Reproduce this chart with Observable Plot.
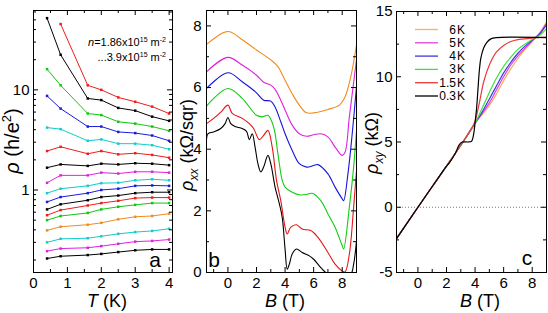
<!DOCTYPE html>
<html><head><meta charset="utf-8">
<script src="https://cdn.jsdelivr.net/npm/d3@7"></script>
<script src="https://cdn.jsdelivr.net/npm/@observablehq/plot@0.6"></script>
<style>
body{margin:0;background:#fff}
#wrap{position:relative;width:548px;height:313px;overflow:hidden;background:#fff}
#wrap svg{position:absolute;left:0;top:0}
</style>
</head><body><div id="wrap"></div>
<script>
// ---------- Panel a: rho(T) on log scale ----------
const T = [0.4, 0.8, 1.6, 2, 2.5, 3, 3.5, 4];
const aColors = ["#ee1c1c","#000000","#11c611","#1b1bdd","#11cccc","#ee1c1c","#000000","#dd22dd","#11cccc","#1b1bdd","#000000","#ee1c1c","#11c611","#f08c1a","#11cccc","#dd22dd","#000000"];
const a01 = [null, 45.4, 11.1, 10.0, 8.4, 7.6, 6.8, 5.8];
const a02 = [52, 22.4, 8.2, 7.9, 6.6, 6.2, 5.4, 4.9];
const a03 = [16.1, 11.1, 5.8, 5.6, 4.8, 4.6, 4.3, 3.9];
const a04 = [8.7, 6.5, 4.3, 4.3, 3.8, 3.7, 3.5, 3.1];
const a05 = [4.2, 4.05, 3.1, 3.2, 2.9, 2.9, 2.8, 2.55];
const a06 = [2.45, 2.7, 2.3, 2.45, 2.27, 2.33, 2.24, 2.1];
const a07 = [1.67, 1.8, 1.74, 1.83, 1.8, 1.85, 1.83, 1.77];
const a08 = [1.18, 1.4, 1.4, 1.49, 1.46, 1.52, 1.52, 1.49];
const a09 = [0.93, 1.03, 1.1, 1.17, 1.18, 1.25, 1.28, 1.25];
const a10 = [0.76, 0.85, 0.93, 1.0, 1.03, 1.1, 1.11, 1.1];
const a11 = [0.64, 0.72, 0.79, 0.85, 0.88, 0.93, 0.95, 0.95];
const a12 = [0.56, 0.63, 0.70, 0.74, 0.78, 0.83, 0.84, 0.84];
const a13 = [0.50, 0.55, 0.59, 0.64, 0.68, 0.71, 0.74, 0.74];
const a14 = [0.395, 0.43, 0.45, 0.47, 0.51, 0.54, 0.55, 0.58];
const a15 = [0.30, 0.325, 0.33, 0.345, 0.365, 0.38, 0.39, 0.41];
const a16 = [0.245, 0.26, 0.265, 0.275, 0.29, 0.305, 0.31, 0.32];
const a17 = [0.207, 0.218, 0.224, 0.23, 0.24, 0.25, 0.255, 0.255];
const aSeries = [a01,a02,a03,a04,a05,a06,a07,a08,a09,a10,a11,a12,a13,a14,a15,a16,a17];
const aXTicks = [0,1,2,3,4];
const aYTicks = [1,10];

// ---------- Panel b: rho_xx(B) ----------
const bB_03 = [-1.5,-1.4,-1.0,-0.5,-0.2,0,0.2,0.5,1.0,1.3,1.5,1.7,1.9,2.1,2.3,2.5,2.8,3.0,3.3,3.6,3.8,4.0,4.15,4.3,4.5,4.8,5.2,5.7,6.0,6.5,7.0,7.5,8.0,8.6,8.8,9.0];
const bV_03 = [4.3,4.5,4.56,4.67,4.83,5.03,4.83,4.74,4.67,4.58,4.31,4.5,4.07,3.53,3.26,3.42,3.8,3.53,2.77,2.23,1.79,0.76,0.11,0.27,0.6,0.76,0.65,0.54,0.43,0.16,-0.05,-0.1,-0.1,-0.05,0.27,1.03];
const bB_15 = [-1.5,-1,-0.5,0,0.3,1,1.5,1.8,2.2,2.5,2.8,3.1,3.4,3.7,4.0,4.15,4.4,4.8,5.2,5.8,6.3,7.0,7.5,8.0,8.2,8.5,8.8,9.0];
const bV_15 = [4.83,5.0,5.2,5.43,5.16,5.0,4.83,4.67,4.31,4.45,4.61,4.07,2.99,2.33,1.47,1.25,1.47,1.55,1.41,1.36,1.14,0.65,0.27,0.05,0.02,0.6,2.12,3.3];
const bB_3 = [-1.5,0,1,2,2.4,2.8,3.2,3.5,3.8,4,4.5,5,5.5,5.9,6.5,7,7.5,8,8.1,8.5,8.8,9];
const bV_3 = [5.4,5.97,5.65,5.1,5.05,5.1,4.72,3.85,2.99,2.77,2.6,2.52,2.53,2.57,2.33,1.9,1.47,0.87,0.76,2.12,3.42,4.61];
const bB_4 = [-1.5,0,1,2,2.5,3,3.3,3.7,4,4.5,5,5.5,6,6.3,7,7.5,8,8.1,8.4,8.7,9];
const bV_4 = [5.97,6.48,6.19,5.83,5.59,5.56,5.37,4.89,4.5,3.96,3.53,3.42,3.47,3.5,3.2,2.77,2.39,2.33,3.2,4.5,6.03];
const bB_5 = [-1.5,0,1,2,2.5,3,3.3,3.7,4,4.5,5,5.5,6,6.5,7,7.5,8,8.2,8.5,9];
const bV_5 = [6.51,6.98,6.73,6.4,6.17,6.08,5.94,5.59,5.27,4.78,4.5,4.42,4.47,4.5,4.4,4.07,3.8,3.9,5.05,6.9];
const bB_6 = [-1.5,0,1,2,3,3.5,4,4.5,5,5.5,6,7,7.8,8.2,8.6,9];
const bV_6 = [7.4,7.82,7.55,7.22,6.9,6.68,6.24,5.8,5.43,5.18,5.18,5.29,5.43,5.7,6.35,7.38];
const bColors = ["#000000","#e51515","#14cc14","#1515d5","#dd22dd","#f08c1a"];
const bTicks = [0,2,4,6,8];

// ---------- Panel c: rho_xy(B) ----------
const cB_03 = [-1.5,0,1.8,2.0,2.2,2.6,2.9,3.1,3.5,3.75,3.9,4.0,4.1,4.2,4.3,4.4,4.6,4.8,5.1,5.5,9];
const cV_03 = [-2.4,0,2.85,3.15,3.4,4.1,4.8,5.0,5.0,5.05,5.6,6.5,7.5,9.0,10.5,11.4,12.2,12.6,12.9,13.0,13.0];
const cB_15 = [-1.5,0,2,3,3.8,4.0,4.3,4.6,5,5.5,6,6.5,7,8,9];
const cV_15 = [-2.4,0,3.15,4.75,6.1,6.6,8.0,9.6,10.9,11.9,12.4,12.7,12.85,12.95,13.05];
const cB_3 = [-1.5,0,2,3,4,4.25,4.5,5,5.5,6,6.5,7,7.5,8,8.5,9];
const cV_3 = [-2.4,0,3.15,4.75,6.45,7.0,7.6,8.8,9.9,10.8,11.5,12.1,12.5,12.85,13.15,13.7];
const cB_4 = [-1.5,0,2,3,4,4.5,5,5.5,6,6.5,7,7.5,8,8.5,9];
const cV_4 = [-2.4,0,3.15,4.75,6.45,7.3,8.3,9.3,10.3,11.1,11.8,12.35,12.8,13.25,14.0];
const cB_5 = [-1.5,0,2,3,4,4.5,5,5.5,6,6.5,7,7.5,8,8.5,9];
const cV_5 = [-2.4,0,3.15,4.75,6.45,7.2,8.0,9.0,10.0,10.9,11.6,12.2,12.75,13.3,14.1];
const cB_6 = [-1.5,0,2,3,4,4.5,5,5.5,6,6.5,7,7.5,8,8.5,9];
const cV_6 = [-2.4,0,3.15,4.75,6.45,7.1,7.8,8.7,9.7,10.6,11.4,12.1,12.7,13.35,14.2];
const cColors = ["#000000","#e83a3a","#3ee03e","#3a3ae0","#e040e0","#f5b060"];
const cLabels = ["0.3","1.5","3","4","5","6"];
const cXTicks = [0,2,4,6,8];
const cYTicks = [-5,0,5,10,15];

// ---------- helpers ----------
const W = 548, H = 313;
const FONT = "Arial, 'Liberation Sans', sans-serif";
function rowsOf(xs, ys, color, key) {
  return xs.map((x, i) => ({x, y: ys[i], color, key})).filter(d => d.y != null);
}
function frameTicks(fw, fh, xMaj, xMin, yMaj, yMin) {
  const L = 5, l = 3;
  return [
    Plot.tickX(xMaj, {x: d => d, insetTop: fh - L}),
    Plot.tickX(xMaj, {x: d => d, insetBottom: fh - L}),
    Plot.tickX(xMin, {x: d => d, insetTop: fh - l}),
    Plot.tickX(xMin, {x: d => d, insetBottom: fh - l}),
    Plot.tickY(yMaj, {y: d => d, insetRight: fw - L}),
    Plot.tickY(yMaj, {y: d => d, insetLeft: fw - L}),
    Plot.tickY(yMin, {y: d => d, insetRight: fw - l}),
    Plot.tickY(yMin, {y: d => d, insetLeft: fw - l})
  ];
}
const baseStyle = {fontFamily: FONT, fontSize: "15px", background: "transparent", overflow: "visible", color: "#000"};
const wrap = document.getElementById("wrap");

// ---------- Panel a ----------
{
  const mL = 33, mR = W - 172, mT = 10, mB = H - 272;
  const fw = W - mL - mR, fh = H - mT - mB;
  const rows = aSeries.flatMap((s, i) => rowsOf(T, s, aColors[i], i));
  const yMin = [];
  for (const d of [0.1, 1, 10]) for (let k = 2; k <= 9; k++) { const v = d * k; if (v > 0.15 && v < 62) yMin.push(v); }
  const p = Plot.plot({
    width: W, height: H, marginLeft: mL, marginRight: mR, marginTop: mT, marginBottom: mB,
    style: baseStyle,
    x: {domain: [0, 4.1], ticks: aXTicks, tickSize: 0, tickPadding: 5, label: null, tickFormat: d => String(d)},
    y: {type: "log", domain: [0.15, 62], ticks: aYTicks, tickSize: 0, tickPadding: 4, label: null, tickFormat: d => String(d)},
    color: {type: "identity"},
    marks: [
      Plot.line(rows, {x: "x", y: "y", z: "key", stroke: "color", strokeWidth: 1}),
      Plot.dot(rows, {x: "x", y: "y", fill: "color", symbol: "square", r: 1.4, stroke: null}),
      Plot.frame({strokeWidth: 1}),
      ...frameTicks(fw, fh, aXTicks, [0.5,1.5,2.5,3.5], aYTicks, yMin)
    ]
  });
  wrap.appendChild(p);
  const s = d3.select(p);
  const t1 = s.append("text").attr("x", 166).attr("y", 46).attr("text-anchor", "end").attr("font-size", 11);
  t1.append("tspan").attr("font-style", "italic").text("n");
  t1.append("tspan").text("=1.86x10");
  t1.append("tspan").attr("dy", -4).attr("font-size", 7).text("15");
  t1.append("tspan").attr("dy", 4).text(" m");
  t1.append("tspan").attr("dy", -4).attr("font-size", 7).text("-2");
  const t2 = s.append("text").attr("x", 166).attr("y", 61).attr("text-anchor", "end").attr("font-size", 11);
  t2.append("tspan").text("...3.9x10");
  t2.append("tspan").attr("dy", -4).attr("font-size", 7).text("15");
  t2.append("tspan").attr("dy", 4).text(" m");
  t2.append("tspan").attr("dy", -4).attr("font-size", 7).text("-2");
  s.append("text").attr("x", 155).attr("y", 267).attr("font-size", 21).text("a");
  const xl = s.append("text").attr("x", 107).attr("y", 307).attr("text-anchor", "middle").attr("font-size", 18);
  xl.append("tspan").attr("font-style", "italic").text("T");
  xl.append("tspan").text(" (K)");
  const yl = s.append("text").attr("transform", "translate(19,141) rotate(-90)").attr("text-anchor", "middle").attr("font-size", 20);
  yl.append("tspan").attr("font-style", "italic").text("ρ");
  yl.append("tspan").text(" (h/e");
  yl.append("tspan").attr("dy", -8).attr("font-size", 13).text("2");
  yl.append("tspan").attr("dy", 8).text(")");
}

// ---------- Panel b ----------
{
  const mL = 206, mR = W - 356, mT = 10, mB = H - 272;
  const fw = W - mL - mR, fh = H - mT - mB;
  const series = [[bB_03,bV_03],[bB_15,bV_15],[bB_3,bV_3],[bB_4,bV_4],[bB_5,bV_5],[bB_6,bV_6]];
  const rows = series.flatMap(([xs, ys], i) => rowsOf(xs, ys, bColors[i], i));
  const p = Plot.plot({
    width: W, height: H, marginLeft: mL, marginRight: mR, marginTop: mT, marginBottom: mB,
    style: baseStyle,
    x: {domain: [-1.5, 9], ticks: bTicks, tickSize: 0, tickPadding: 5, label: null, tickFormat: d => String(d)},
    y: {domain: [0, 8.5], ticks: bTicks, tickSize: 0, tickPadding: 5, label: null, tickFormat: d => String(d)},
    color: {type: "identity"},
    marks: [
      Plot.line(rows, {x: "x", y: "y", z: "key", stroke: "color", strokeWidth: 1.1, curve: "catmull-rom", clip: true}),
      Plot.frame({strokeWidth: 1}),
      ...frameTicks(fw, fh, bTicks, [-1,1,3,5,7], bTicks, [1,3,5,7])
    ]
  });
  wrap.appendChild(p);
  const s = d3.select(p);
  s.append("text").attr("x", 214).attr("y", 267).attr("font-size", 21).text("b");
  const xl = s.append("text").attr("x", 285).attr("y", 307).attr("text-anchor", "middle").attr("font-size", 18);
  xl.append("tspan").attr("font-style", "italic").text("B");
  xl.append("tspan").text(" (T)");
  const yl = s.append("text").attr("transform", "translate(193,145) rotate(-90)").attr("text-anchor", "middle").attr("font-size", 18);
  yl.append("tspan").attr("font-style", "italic").text("ρ");
  yl.append("tspan").attr("font-style", "italic").attr("dy", 5).attr("font-size", 12).text("xx");
  yl.append("tspan").attr("dy", -5).text(" (kΩ/sqr)");
}

// ---------- Panel c ----------
{
  const mL = 396, mR = W - 546, mT = 11, mB = H - 272;
  const fw = W - mL - mR, fh = H - mT - mB;
  const series = [[cB_03,cV_03],[cB_15,cV_15],[cB_3,cV_3],[cB_4,cV_4],[cB_5,cV_5],[cB_6,cV_6]];
  const rows = series.flatMap(([xs, ys], i) => rowsOf(xs, ys, cColors[i], i)).reverse();
  const p = Plot.plot({
    width: W, height: H, marginLeft: mL, marginRight: mR, marginTop: mT, marginBottom: mB,
    style: baseStyle,
    x: {domain: [-1.5, 9], ticks: cXTicks, tickSize: 0, tickPadding: 5, label: null, tickFormat: d => String(d)},
    y: {domain: [-5, 15], ticks: cYTicks, tickSize: 0, tickPadding: 4, label: null, tickFormat: d => String(d)},
    color: {type: "identity"},
    marks: [
      Plot.ruleY([0], {stroke: "#777", strokeDasharray: "1,2"}),
      Plot.line(rows, {x: "x", y: "y", z: "key", stroke: "color", strokeWidth: 1.2, curve: "catmull-rom", clip: true}),
      Plot.frame({strokeWidth: 1}),
      ...frameTicks(fw, fh, cXTicks, [-1,1,3,5,7], cYTicks, [-2.5,2.5,7.5,12.5])
    ]
  });
  wrap.appendChild(p);
  const s = d3.select(p);
  // legend (top to bottom: 6 K ... 0.3 K)
  const order = [5,4,3,2,1,0];
  order.forEach((idx, r) => {
    const y = 29.5 + r * 13.3;
    s.append("line").attr("x1", 415).attr("x2", 438).attr("y1", y).attr("y2", y).attr("stroke", cColors[idx]).attr("stroke-width", 1.3);
    s.append("text").attr("x", 456).attr("y", y + 4).attr("text-anchor", "end").attr("font-size", 12).text(cLabels[idx]);
    s.append("text").attr("x", 461).attr("y", y + 4).attr("font-size", 12).text("K");
  });
  s.append("text").attr("x", 527).attr("y", 265).attr("font-size", 21).text("c");
  const xl = s.append("text").attr("x", 480).attr("y", 307).attr("text-anchor", "middle").attr("font-size", 18);
  xl.append("tspan").attr("font-style", "italic").text("B");
  xl.append("tspan").text(" (T)");
  const yl = s.append("text").attr("transform", "translate(378,143) rotate(-90)").attr("text-anchor", "middle").attr("font-size", 18);
  yl.append("tspan").attr("font-style", "italic").text("ρ");
  yl.append("tspan").attr("font-style", "italic").attr("dy", 5).attr("font-size", 12).text("xy");
  yl.append("tspan").attr("dy", -5).text(" (kΩ)");
}
</script>
</body></html>
